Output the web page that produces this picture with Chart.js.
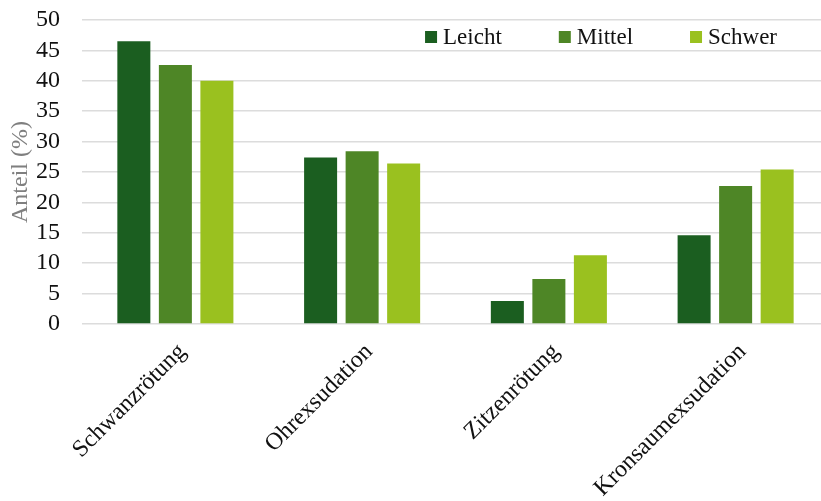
<!DOCTYPE html>
<html>
<head>
<meta charset="utf-8">
<script src="https://cdn.jsdelivr.net/npm/chart.js@4.4.1/dist/chart.umd.min.js"></script>
<style>
  html, body { margin: 0; padding: 0; background: #fff; overflow: hidden; }
  #wrap { width: 830px; height: 501px; }
</style>
</head>
<body>
<div id="wrap"><canvas id="chart"></canvas></div>
<script>
// Daten
const categories = ['Schwanzrötung', 'Ohrexsudation', 'Zitzenrötung', 'Kronsaumexsudation'];
const leicht = [46.5, 27.4, 3.8, 14.6];
const mittel = [42.6, 28.4, 7.4, 22.7];
const schwer = [40.0, 26.4, 11.3, 25.4];
const seriesNames = ['Leicht', 'Mittel', 'Schwer'];
const yTicks = [0, 5, 10, 15, 20, 25, 30, 35, 40, 45, 50];

const COLORS = ['#1b5e20', '#4e8626', '#9ac11f'];
const SERIF = "'Liberation Serif', 'Times New Roman', serif";

// Legende innerhalb der Zeichenfläche (oben rechts)
const insideLegend = {
  id: 'insideLegend',
  afterDraw(chart) {
    const ctx = chart.ctx;
    const area = chart.chartArea;
    ctx.save();
    ctx.font = '23px ' + SERIF;
    ctx.textBaseline = 'middle';
    ctx.textAlign = 'left';
    const box = 12, gap = 6, spacing = 57;
    const items = chart.data.datasets.map(ds => ({
      label: ds.label, color: ds.backgroundColor, w: ctx.measureText(ds.label).width
    }));
    let total = 0;
    items.forEach((it, i) => { total += box + gap + it.w + (i ? spacing : 0); });
    let x = 777 - total;
    const y = area.top + 17;
    items.forEach(it => {
      ctx.fillStyle = it.color;
      ctx.fillRect(x, y - box / 2, box, box);
      ctx.fillStyle = '#111';
      ctx.fillText(it.label, x + box + gap, y + 1);
      x += box + gap + it.w + spacing;
    });
    ctx.restore();
  }
};

const ctx = document.getElementById('chart').getContext('2d');
new Chart(ctx, {
  type: 'bar',
  data: {
    labels: categories,
    datasets: [leicht, mittel, schwer].map((d, i) => ({
      label: seriesNames[i],
      data: d,
      backgroundColor: COLORS[i],
      borderWidth: 0,
      categoryPercentage: 0.667,
      barPercentage: 0.795
    }))
  },
  options: {
    responsive: true,
    maintainAspectRatio: false,
    animation: false,
    layout: { padding: { top: 20, right: 1, left: 6, bottom: 0 } },
    plugins: {
      legend: { display: false },
      tooltip: { enabled: false }
    },
    scales: {
      x: {
        grid: { display: false },
        border: { display: false },
        ticks: {
          color: '#111',
          font: { family: SERIF, size: 24 },
          minRotation: 45,
          maxRotation: 45,
          padding: 6,
          labelOffset: 7
        },
        afterFit: (scale) => { scale.height = 177; }
      },
      y: {
        min: 0,
        max: 50,
        afterBuildTicks: (scale) => { scale.ticks = yTicks.map(v => ({ value: v })); },
        grid: { color: '#dcdcdc', lineWidth: 1.5, drawTicks: false },
        border: { display: false },
        ticks: {
          color: '#111',
          font: { family: SERIF, size: 24 },
          padding: 22,
          autoSkip: false
        },
        title: {
          display: true,
          text: 'Anteil (%)',
          color: '#7f7f7f',
          font: { family: SERIF, size: 24 },
          padding: 0
        },
        afterFit: (scale) => {
          scale.width = 76;
          scale.paddingTop = 0;
          scale.paddingBottom = 0;
        }
      }
    }
  },
  plugins: [insideLegend]
});
</script>
</body>
</html>
